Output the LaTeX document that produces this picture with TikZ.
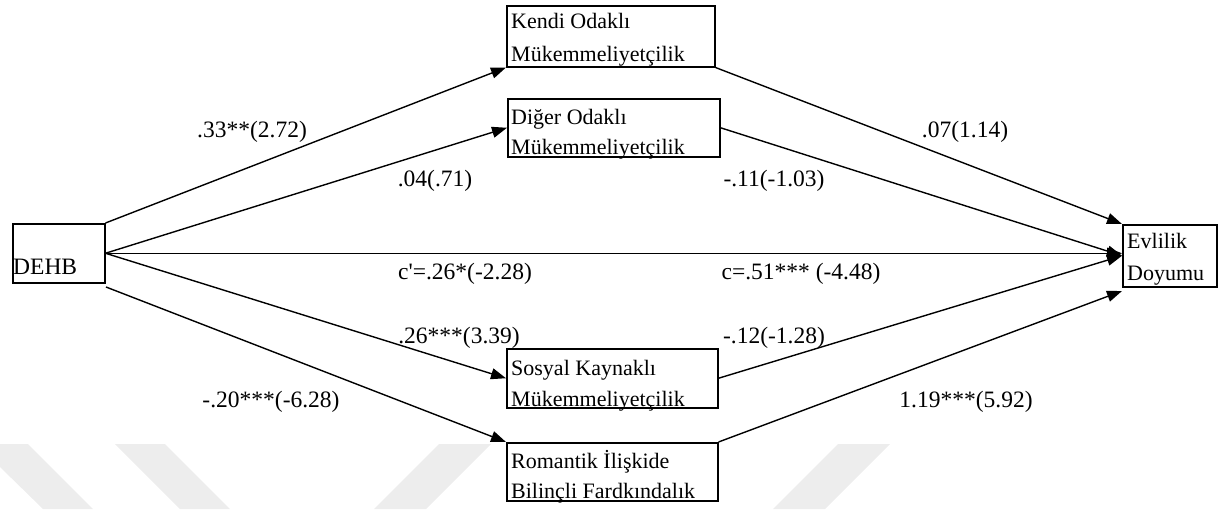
\documentclass[tikz,border=0pt]{standalone}
\usepackage{fontspec}
\setmainfont{Liberation Serif}
\usetikzlibrary{arrows.meta}
\newcommand\myapos{{\XeTeXglyph\XeTeXcharglyph"27\relax}}
\begin{document}
\begin{tikzpicture}[x=1pt,y=-1pt,
  box/.style={draw=black, line width=1.5pt, fill=white, inner sep=0pt, anchor=north west},
  btext/.style={anchor=base west, inner sep=0pt, font=\fontsize{22}{26}\selectfont},
  lab/.style={anchor=base, inner sep=0pt, font=\fontsize{23.5}{28}\selectfont},
  conn/.style={line width=1.4pt, -{Triangle[length=15pt,width=11pt]}},
  wm/.style={fill=black!7, draw=none}]
\useasboundingbox (0,0) rectangle (1230,509);
% watermark
\fill[wm] (0,467) -- (0,444) -- (28,444) -- (93,509) -- (43,509) -- cycle;
\fill[wm] (115,444) -- (165,444) -- (230,509) -- (180,509) -- cycle;
\fill[wm] (439,444) -- (491,444) -- (426,509) -- (374,509) -- cycle;
\fill[wm] (838,444) -- (890,444) -- (825,509) -- (773,509) -- cycle;
% boxes
\node[box, minimum width=92pt, minimum height=59pt] (dehb) at (12,223) {};
\node[box, minimum width=208pt, minimum height=61pt] (kendi) at (506,5) {};
\node[box, minimum width=212pt, minimum height=58pt] (diger) at (507,98) {};
\node[box, minimum width=211pt, minimum height=59pt] (sosyal) at (506,348) {};
\node[box, minimum width=211pt, minimum height=58pt] (rom) at (506,442) {};
\node[box, minimum width=94pt, minimum height=62pt] (evl) at (1122,224) {};
% box texts
\node[btext, font=\fontsize{23.5}{28}\selectfont] (dehbt) at (13,274) {DEHB};
\node[btext] (kendit1) at (511,28) {Kendi Odaklı};
\node[btext] (kendit2) at (511,61) {Mükemmeliyetçilik};
\node[btext] (digert1) at (511,124) {Diğer Odaklı};
\node[btext] (digert2) at (511,154) {Mükemmeliyetçilik};
\node[btext] (sosyalt1) at (511,375) {Sosyal Kaynaklı};
\node[btext] (sosyalt2) at (511,406) {Mükemmeliyetçilik};
\node[btext] (romt1) at (511,468) {Romantik İlişkide};
\node[btext] (romt2) at (511,498) {Bilinçli Fardkındalık};
\node[btext] (evlt1) at (1127,248) {Evlilik};
\node[btext] (evlt2) at (1127,280) {Doyumu};
% connectors
\coordinate (dehbLow) at (106,287);
\coordinate (evlLow) at (1122,291);
\draw[conn] (dehb.north east) -- (kendi.south west);
\draw[conn] (dehb.east) -- (diger.west);
\draw[conn] (dehb.east) -- (dehb.east -| evl.west);
\draw[conn] (dehb.east) -- (sosyal.west);
\draw[conn] (dehbLow) -- (rom.north west);
\draw[conn] (kendi.south east) -- (evl.north west);
\draw[conn] (diger.east) -- (evl.west);
\draw[conn] (sosyal.east) -- (evl.west);
\draw[conn] (rom.north east) -- (evlLow);
% labels
\node[lab] (l1) at (252,137) {.33**(2.72)};
\node[lab] (l2) at (435,186) {.04(.71)};
\node[lab] (l3) at (465,279) {c\myapos=.26*(-2.28)};
\node[lab] (l4) at (965,137) {.07(1.14)};
\node[lab] (l5) at (774,186) {-.11(-1.03)};
\node[lab] (l6) at (801,279) {c=.51*** (-4.48)};
\node[lab] (l7) at (459,343) {.26***(3.39)};
\node[lab] (l8) at (774,343) {-.12(-1.28)};
\node[lab] (l9) at (271,407) {-.20***(-6.28)};
\node[lab] (l10) at (966,407) {1.19***(5.92)};
\end{tikzpicture}
\end{document}
